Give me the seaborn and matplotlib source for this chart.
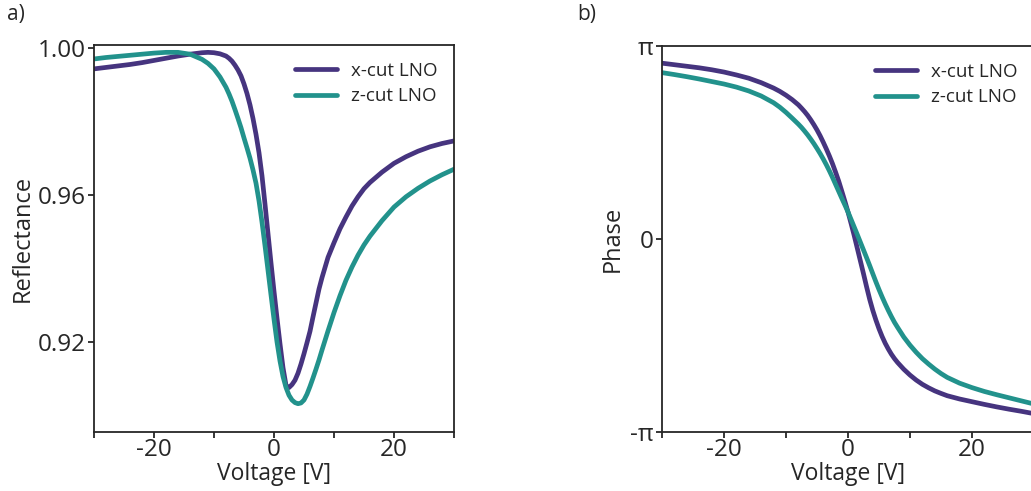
import numpy as np
import pandas as pd
import matplotlib
matplotlib.use("Agg")
import matplotlib.pyplot as plt
import seaborn as sns

# shared voltage grid [V]
voltage = [-30, -28, -26, -24, -22, -20, -18, -16, -14, -12,
           -11, -10, -9, -8,
           -7.5, -7, -6.5, -6, -5.5, -5, -4.5, -4, -3.5, -3,
           -2.5, -2, -1.5, -1, -0.5, 0, 0.5, 1, 1.5, 2,
           2.5, 3, 3.5, 4, 4.5, 5, 5.5, 6, 6.5, 7,
           7.5, 8, 9, 10, 11, 12, 13, 14, 15, 16,
           18, 20, 22, 24, 26, 28, 30]

# a) reflectance
refl_x = [0.9943, 0.9947, 0.9951, 0.9955, 0.9960, 0.9966, 0.9972, 0.9978, 0.9983, 0.9987,
          0.9988, 0.9987, 0.9984, 0.9978,
          0.9972, 0.9964, 0.9953, 0.9940, 0.9924, 0.9902, 0.9876, 0.9845, 0.9808, 0.9765,
          0.9715, 0.9652, 0.9575, 0.9495, 0.9415, 0.9338, 0.9265, 0.9195, 0.9130, 0.9082,
          0.9076, 0.9084, 0.9096, 0.9115, 0.9140, 0.9168, 0.9198, 0.9229, 0.9268, 0.9306,
          0.9344, 0.9375, 0.9430, 0.9470, 0.9508, 0.9540, 0.9570, 0.9595, 0.9617, 0.9634,
          0.9662, 0.9686, 0.9704, 0.9719, 0.9731, 0.9740, 0.9747]
refl_z = [0.9970, 0.9974, 0.9977, 0.9980, 0.9983, 0.9986, 0.9988, 0.9988, 0.9983, 0.9969,
          0.9958, 0.9943, 0.9921, 0.9893,
          0.9875, 0.9855, 0.9832, 0.9808, 0.9783, 0.9755, 0.9728, 0.9700, 0.9668, 0.9632,
          0.9584, 0.9526, 0.9462, 0.9395, 0.9328, 0.9262, 0.9200, 0.9148, 0.9106, 0.9076,
          0.9055, 0.9042, 0.9035, 0.9032, 0.9034, 0.9042, 0.9058, 0.9079, 0.9102, 0.9126,
          0.9151, 0.9178, 0.9230, 0.9280, 0.9326, 0.9368, 0.9404, 0.9436, 0.9464, 0.9488,
          0.9530, 0.9567, 0.9595, 0.9618, 0.9638, 0.9655, 0.9670]

# b) phase, in units of pi
phase_x = [0.911, 0.903, 0.895, 0.887, 0.877, 0.865, 0.850, 0.833, 0.810, 0.782,
           0.765, 0.745, 0.722, 0.695,
           0.678, 0.660, 0.640, 0.617, 0.592, 0.565, 0.535, 0.502, 0.467, 0.430,
           0.390, 0.346, 0.300, 0.248, 0.195, 0.140, 0.080, 0.018, -0.048, -0.114,
           -0.180, -0.248, -0.313, -0.370, -0.420, -0.465, -0.505, -0.540, -0.570, -0.597,
           -0.620, -0.640, -0.675, -0.705, -0.731, -0.753, -0.771, -0.787, -0.800, -0.812,
           -0.829, -0.843, -0.857, -0.870, -0.882, -0.893, -0.905]
phase_z = [0.862, 0.852, 0.841, 0.829, 0.816, 0.803, 0.787, 0.767, 0.741, 0.706,
           0.683, 0.656, 0.626, 0.595,
           0.578, 0.559, 0.539, 0.517, 0.494, 0.469, 0.443, 0.415, 0.385, 0.353,
           0.319, 0.283, 0.247, 0.211, 0.176, 0.140, 0.101, 0.062, 0.023, -0.017,
           -0.057, -0.097, -0.138, -0.180, -0.222, -0.262, -0.300, -0.336, -0.370, -0.402,
           -0.432, -0.458, -0.508, -0.550, -0.587, -0.620, -0.648, -0.674, -0.697, -0.717,
           -0.747, -0.770, -0.790, -0.807, -0.823, -0.839, -0.855]

labels = ["x-cut LNO", "z-cut LNO"]
colors = ["#46347f", "#22928c"]

sns.set_style("ticks")
plt.rcParams["font.family"] = ["Open Sans", "DejaVu Sans"]
plt.rcParams["axes.linewidth"] = 1.3
plt.rcParams["xtick.major.width"] = 1.3
plt.rcParams["ytick.major.width"] = 1.3
plt.rcParams["xtick.minor.width"] = 1.3

n = len(voltage)
refl = pd.DataFrame({
    "Voltage": voltage * 2,
    "val": refl_x + refl_z,
    "sample": [labels[0]] * n + [labels[1]] * n,
})
phase = pd.DataFrame({
    "Voltage": voltage * 2,
    "val": list(np.pi * np.array(phase_x)) + list(np.pi * np.array(phase_z)),
    "sample": [labels[0]] * n + [labels[1]] * n,
})

fig = plt.figure(figsize=(10.31, 4.91), dpi=100)
ax1 = fig.add_axes([94 / 1031, 59 / 491, 360 / 1031, 387 / 491])
ax2 = fig.add_axes([662 / 1031, 59 / 491, 372 / 1031, 386 / 491])

for ax, df in [(ax1, refl), (ax2, phase)]:
    sns.lineplot(data=df, x="Voltage", y="val", hue="sample", palette=colors,
                 linewidth=3.4, ax=ax)
    ax.set_xlim(-30, 30)
    ax.set_xticks([-20, 0, 20])
    ax.set_xticklabels(["-20", "0", "20"])
    ax.set_xticks([-30, -10, 10, 30], minor=True)
    ax.tick_params(axis="both", which="both", length=4, labelsize=17.5, pad=2)
    ax.tick_params(axis="x", which="both", pad=0)
    ax.set_xlabel("Voltage [V]", fontsize=16.5, labelpad=0)
    leg = ax.legend(frameon=False, fontsize=13.5, handlelength=2.2, handletextpad=0.75,
                    labelspacing=0.4)
    for line in leg.get_lines():
        line.set_linewidth(3.4)

ax1.set_ylim(0.8955, 1.0008)
ax1.set_yticks([0.92, 0.96, 1.00])
ax1.set_yticklabels(["0.92", "0.96", "1.00"])
ax1.set_ylabel("Reflectance", fontsize=17, labelpad=2)
ax1.legend_.set_bbox_to_anchor((1.0, 1.0))
ax1.legend_._loc = 1

ax2.set_ylim(-np.pi, np.pi)
ax2.set_yticks([-np.pi, 0, np.pi])
ax2.set_yticklabels(["-π", "0", "π"])
ax2.set_ylabel("Phase", fontsize=17, labelpad=4)
ax2.legend_.set_bbox_to_anchor((1.0, 1.0))
ax2.legend_._loc = 1

fig.text(7 / 1031, 1 - 4 / 491, "a)", fontsize=15, va="top", ha="left")
fig.text(577 / 1031, 1 - 4 / 491, "b)", fontsize=15, va="top", ha="left")

fig.savefig("out.png", dpi=100)
